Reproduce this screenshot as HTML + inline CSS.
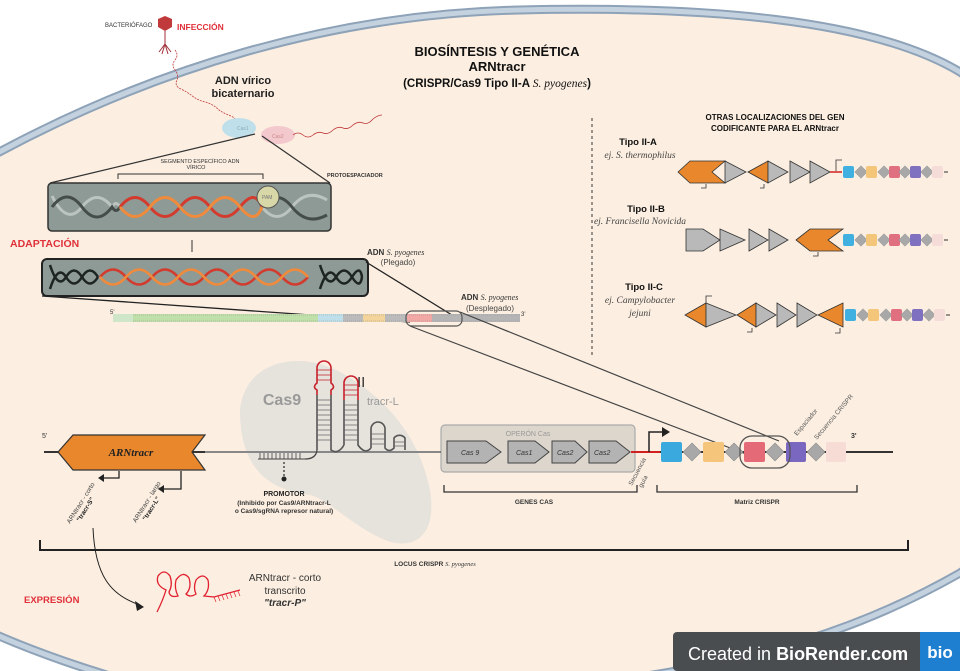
<!DOCTYPE html>
<html><head><meta charset="utf-8">
<style>
html,body{margin:0;padding:0;background:#fff}
svg{display:block}
text{font-family:"Liberation Sans",sans-serif}
.b{font-weight:bold}
.sr{font-family:"Liberation Serif",serif;font-style:italic}
</style></head><body>
<svg width="960" height="671" viewBox="0 0 960 671" xmlns="http://www.w3.org/2000/svg">
<defs>
<g id="dia"><polygon points="0,-9 9,0 0,9 -9,0" fill="#a8a8a8" stroke="#8a8a8a" stroke-width="0.6"/></g>
</defs>
<rect width="960" height="671" fill="#fff"/>
<!-- cell -->
<path id="cell" d="M-10,157 C150,70 330,14 520,10 C700,6 870,18 960,72 C975,82 985,95 990,110 L990,550 C980,560 970,566 960,573 C860,630 760,660 620,680 L160,690 C90,672 30,650 -10,632 Z" fill="#fcefe1" stroke="#8ea2b8" stroke-width="9"/>
<path d="M-10,157 C150,70 330,14 520,10 C700,6 870,18 960,72 C975,82 985,95 990,110 L990,550 C980,560 970,566 960,573 C860,630 760,660 620,680 L160,690 C90,672 30,650 -10,632 Z" fill="none" stroke="#c4d2e0" stroke-width="5"/>

<!-- title -->
<text x="497" y="56" font-size="13" class="b" text-anchor="middle" fill="#111">BIOSÍNTESIS Y GENÉTICA</text>
<text x="497" y="71" font-size="13" class="b" text-anchor="middle" fill="#111">ARNtracr</text>
<text x="497" y="87" font-size="11.5" class="b" text-anchor="middle" fill="#111">(CRISPR/Cas9 Tipo II-A <tspan class="sr" font-weight="normal">S. pyogenes</tspan>)</text>

<!-- phage -->
<text x="105" y="27" font-size="6" fill="#333">BACTERIÓFAGO</text>
<polygon points="165,16 172,19 172,27 165,31 158,27 158,19" fill="#c0393b"/>
<path d="M165,31 V45 M165,44 l-6,8 M165,44 l6,8 M165,44 l-3,10 M165,44 l3,10" stroke="#a0303a" stroke-width="1" fill="none"/>
<text x="177" y="30" font-size="8.5" class="b" fill="#e0303a">INFECCIÓN</text>
<path d="M175,50 q4,5 0,10 q-4,5 0,10 q4,5 2,10 q-3,6 4,9 q6,3 10,6 q6,5 14,7 q8,2 14,8 q6,4 12,6 q6,3 7,8 q2,4 5,6" stroke="#c0393b" stroke-width="0.8" fill="none" stroke-dasharray="2 1"/>
<text x="243" y="84" font-size="11" class="b" text-anchor="middle" fill="#222">ADN vírico</text>
<text x="243" y="97" font-size="11" class="b" text-anchor="middle" fill="#222">bicaternario</text>
<ellipse cx="239" cy="128" rx="17" ry="10" fill="#bfe0ea"/>
<text x="237" y="130" font-size="5" fill="#8ab">Cas1</text>
<ellipse cx="278" cy="135" rx="17" ry="9" fill="#f3c9cd"/>
<text x="272" y="138" font-size="5" fill="#c88">Cas2</text>
<path d="M293,135 q5,-4 10,0 q5,4 10,0 q5,-4 10,-2 q5,2 10,-3 q5,-4 10,-2 q5,2 10,-3 q5,-4 10,-2 q5,2 10,-4 q5,-4 9,-4" stroke="#c0393b" stroke-width="0.8" fill="none"/>
<line x1="255" y1="134" x2="50" y2="183" stroke="#333" stroke-width="1.2"/>
<line x1="262" y1="136" x2="330" y2="183" stroke="#333" stroke-width="1.2"/>
<text x="200" y="163" font-size="5.5" text-anchor="middle" fill="#333">SEGMENTO ESPECÍFICO ADN</text>
<text x="196" y="169" font-size="5.5" text-anchor="middle" fill="#333">VÍRICO</text>
<path d="M118,179 V174 H263 V179" stroke="#333" stroke-width="1" fill="none"/>
<text x="327" y="177" font-size="5.5" class="b" fill="#333">PROTOESPACIADOR</text>

<!-- box1 -->
<rect x="48" y="183" width="283" height="48" rx="4" fill="#8d9a95" stroke="#333" stroke-width="1.5"/>
<path d="M52,196 Q67,226 82,207 T112,207 Q116,200 120,207 M262,207 Q277,226 292,207 T327,200" stroke="#cfd6d3" stroke-width="3" fill="none" opacity="0.7"/>
<path d="M52,207 Q67,187 82,207 T112,207 Q116,214 120,207 M262,207 Q277,188 292,207 T327,215" stroke="#454d4b" stroke-width="3" fill="none"/>
<path d="M120,207 Q135,188 150,207 T180,207 T210,207 T240,207 T262,207" stroke="#d23b2e" stroke-width="3" fill="none"/>
<path d="M120,207 Q135,226 150,207 T180,207 T210,207 T240,207 T262,207" stroke="#f08a3c" stroke-width="3" fill="none"/>
<circle cx="268" cy="197" r="11" fill="#d8d7a8" stroke="#555" stroke-width="1"/>
<text x="262" y="199" font-size="5" fill="#777">PAM</text>
<line x1="192" y1="240" x2="192" y2="252" stroke="#333" stroke-width="1"/>
<text x="10" y="247" font-size="10.5" class="b" fill="#e0303a">ADAPTACIÓN</text>

<!-- box2 -->
<rect x="42" y="259" width="326" height="37" rx="5" fill="#8d9a95" stroke="#222" stroke-width="2"/>
<path d="M50,265 Q58,290 66,277 T82,277 T98,277 M320,265 Q328,290 336,277 T352,277 T362,277" stroke="#1d2422" stroke-width="2.5" fill="none"/>
<path d="M50,289 Q58,264 66,277 T82,277 T98,277 M320,289 Q328,264 336,277 T352,277 T362,277" stroke="#1d2422" stroke-width="2.5" fill="none"/>
<path d="M100,277 Q113,262 126,277 T152,277 T178,277 T204,277 T230,277 T256,277 T282,277 T308,277" stroke="#d23b2e" stroke-width="2.5" fill="none"/>
<path d="M100,277 Q113,292 126,277 T152,277 T178,277 T204,277 T230,277 T256,277 T282,277 T308,277" stroke="#f08a3c" stroke-width="2.5" fill="none"/>
<line x1="42" y1="296" x2="410" y2="322" stroke="#222" stroke-width="1.3"/>
<line x1="366" y1="262" x2="460" y2="320" stroke="#222" stroke-width="1.3"/>
<text x="367" y="255" font-size="8" class="b" fill="#333">ADN <tspan class="sr" font-weight="normal">S. pyogenes</tspan></text>
<text x="398" y="265" font-size="8" text-anchor="middle" fill="#444">(Plegado)</text>
<text x="461" y="300" font-size="8" class="b" fill="#333">ADN <tspan class="sr" font-weight="normal">S. pyogenes</tspan></text>
<text x="490" y="311" font-size="8" text-anchor="middle" fill="#444">(Desplegado)</text>
<text x="110" y="314" font-size="6" fill="#333">5'</text>
<text x="521" y="316" font-size="6" fill="#333">3'</text>
<rect x="113" y="314" width="20" height="8" fill="#cfe6c8"/>
<rect x="133" y="314" width="185" height="8" fill="#bfe0a8"/>
<rect x="318" y="314" width="25" height="8" fill="#bfe0ea"/>
<rect x="343" y="314" width="20" height="8" fill="#bbb"/>
<rect x="363" y="314" width="22" height="8" fill="#f3d49a"/>
<rect x="385" y="314" width="22" height="8" fill="#bbb"/>
<rect x="407" y="314" width="25" height="8" fill="#f2a8a4"/>
<rect x="432" y="314" width="88" height="8" fill="#b5b5b5"/>
<path d="M133,315 H520 M133,321 H520" stroke="#999" stroke-width="0.5" stroke-dasharray="1 1"/>
<rect x="406" y="311" width="56" height="15" rx="6" fill="none" stroke="#555" stroke-width="1.2"/>
<line x1="410" y1="326" x2="746" y2="454" stroke="#444" stroke-width="1.2"/>
<line x1="460" y1="312" x2="779" y2="441" stroke="#444" stroke-width="1.2"/>

<!-- dashed divider -->
<line x1="592" y1="118" x2="592" y2="355" stroke="#333" stroke-width="1" stroke-dasharray="3 3"/>

<!-- right panel -->
<text x="775" y="120" font-size="8" class="b" text-anchor="middle" fill="#111">OTRAS LOCALIZACIONES DEL GEN</text>
<text x="775" y="131" font-size="8" class="b" text-anchor="middle" fill="#111">CODIFICANTE PARA EL ARNtracr</text>
<text x="638" y="145" font-size="9.5" class="b" text-anchor="middle" fill="#111">Tipo II-A</text>
<text x="640" y="158" font-size="9.5" class="sr" text-anchor="middle" fill="#444">ej. S. thermophilus</text>
<text x="646" y="212" font-size="9.5" class="b" text-anchor="middle" fill="#111">Tipo II-B</text>
<text x="640" y="224" font-size="9.5" class="sr" text-anchor="middle" fill="#444">ej. Francisella Novicida</text>
<text x="644" y="290" font-size="9.5" class="b" text-anchor="middle" fill="#111">Tipo II-C</text>
<text x="640" y="303" font-size="9.5" class="sr" text-anchor="middle" fill="#444">ej. Campylobacter</text>
<text x="640" y="316" font-size="9.5" class="sr" text-anchor="middle" fill="#444">jejuni</text>
<g stroke="#333" stroke-width="0.8">
<polygon points="678,172 690,161 725,161 712,172 725,183 690,183" fill="#e8872c"/>
<polygon points="725,161 746,172 725,183" fill="#b9b9b9"/>
<polygon points="748,172 768,161 768,183" fill="#e8872c"/>
<polygon points="768,161 788,172 768,183" fill="#b9b9b9"/>
<polygon points="790,161 810,172 790,183" fill="#b9b9b9"/>
<polygon points="810,161 830,172 810,183" fill="#b9b9b9"/>
<line x1="830" y1="172" x2="842" y2="172" stroke="#d02020" stroke-width="1.5"/>
<path d="M836,171 V160 H842" fill="none"/>
<path d="M706,184 V188 H701 M764,184 V188 H760" fill="none"/>
<polygon points="686,229 703,229 720,240 703,251 686,251" fill="#b9b9b9"/>
<polygon points="720,229 745,240 720,251" fill="#b9b9b9"/>
<polygon points="749,229 768,240 749,251" fill="#b9b9b9"/>
<polygon points="769,229 788,240 769,251" fill="#b9b9b9"/>
<polygon points="796,240 810,229 843,229 828,240 843,251 810,251" fill="#e8872c"/>
<path d="M818,252 V256 H813" fill="none"/>
<polygon points="685,315 706,303 706,327" fill="#e8872c"/>
<polygon points="706,303 736,315 706,327" fill="#b9b9b9"/>
<polygon points="737,315 756,303 756,327" fill="#e8872c"/>
<polygon points="756,303 776,315 756,327" fill="#b9b9b9"/>
<polygon points="777,303 796,315 777,327" fill="#b9b9b9"/>
<polygon points="797,303 817,315 797,327" fill="#b9b9b9"/>
<polygon points="818,315 843,303 843,327" fill="#e8872c"/>
<path d="M706,303 V296 H712 M752,328 V332 H747 M840,328 V333 H835" fill="none"/>
</g>
<g>
<g transform="translate(0,172)"><rect x="843" y="-6" width="11" height="12" rx="2" fill="#3fb0e0"/><use href="#dia" transform="translate(861,0) scale(0.7)"/><rect x="866" y="-6" width="11" height="12" rx="2" fill="#f3c67a"/><use href="#dia" transform="translate(884,0) scale(0.7)"/><rect x="889" y="-6" width="11" height="12" rx="2" fill="#e07080"/><use href="#dia" transform="translate(905,0) scale(0.7)"/><rect x="910" y="-6" width="11" height="12" rx="2" fill="#8070c0"/><use href="#dia" transform="translate(927,0) scale(0.7)"/><rect x="932" y="-6" width="11" height="12" rx="2" fill="#f5dcd8"/><line x1="944" y1="0" x2="948" y2="0" stroke="#333"/></g>
<g transform="translate(0,240)"><rect x="843" y="-6" width="11" height="12" rx="2" fill="#3fb0e0"/><use href="#dia" transform="translate(861,0) scale(0.7)"/><rect x="866" y="-6" width="11" height="12" rx="2" fill="#f3c67a"/><use href="#dia" transform="translate(884,0) scale(0.7)"/><rect x="889" y="-6" width="11" height="12" rx="2" fill="#e07080"/><use href="#dia" transform="translate(905,0) scale(0.7)"/><rect x="910" y="-6" width="11" height="12" rx="2" fill="#8070c0"/><use href="#dia" transform="translate(927,0) scale(0.7)"/><rect x="932" y="-6" width="11" height="12" rx="2" fill="#f5dcd8"/><line x1="944" y1="0" x2="948" y2="0" stroke="#333"/></g>
<g transform="translate(0,315)"><rect x="845" y="-6" width="11" height="12" rx="2" fill="#3fb0e0"/><use href="#dia" transform="translate(863,0) scale(0.7)"/><rect x="868" y="-6" width="11" height="12" rx="2" fill="#f3c67a"/><use href="#dia" transform="translate(886,0) scale(0.7)"/><rect x="891" y="-6" width="11" height="12" rx="2" fill="#e07080"/><use href="#dia" transform="translate(907,0) scale(0.7)"/><rect x="912" y="-6" width="11" height="12" rx="2" fill="#8070c0"/><use href="#dia" transform="translate(929,0) scale(0.7)"/><rect x="934" y="-6" width="11" height="12" rx="2" fill="#f5dcd8"/><line x1="946" y1="0" x2="950" y2="0" stroke="#333"/></g>
</g>

<!-- Cas9 blob -->
<path d="M240,410 C245,360 300,350 340,372 C390,400 420,440 430,490 C438,540 410,550 385,540 C350,525 330,500 310,495 C270,490 240,470 240,410 Z" fill="#e3e0db" opacity="0.9"/>
<text x="282" y="405" font-size="16" class="b" text-anchor="middle" fill="#9a9a9a">Cas9</text>
<text x="357" y="387" font-size="15" fill="#333">II</text>

<!-- main locus line -->
<line x1="44" y1="452" x2="893" y2="452" stroke="#333" stroke-width="2"/>
<line x1="205" y1="452" x2="440" y2="452" stroke="#888" stroke-width="2"/>
<text x="42" y="438" font-size="7" fill="#333">5'</text>
<text x="851" y="438" font-size="7" class="b" fill="#333">3'</text>
<polygon points="58,452 73,435 205,435 192,452 205,470 73,470" fill="#e8872c" stroke="#333" stroke-width="1.2"/>
<text x="131" y="456" font-size="11" class="sr b" text-anchor="middle" fill="#222">ARNtracr</text>
<path d="M119,471 V478 H102" stroke="#222" stroke-width="1.3" fill="none"/><polygon points="98,478 104,474 104,482" fill="#222"/>
<path d="M181,471 V489 H162" stroke="#222" stroke-width="1.3" fill="none"/><polygon points="158,489 164,485 164,493" fill="#222"/>
<text transform="translate(70,524) rotate(-58)" font-size="6.5" fill="#444">ARNtracr - corto</text>
<text transform="translate(80,522) rotate(-58)" font-size="6.5" class="b" fill="#222">"tracr-S"</text>
<text transform="translate(136,523) rotate(-58)" font-size="6.5" fill="#444">ARNtracr - largo</text>
<text transform="translate(146,521) rotate(-58)" font-size="6.5" class="b" fill="#222">"tracr-L"</text>

<!-- promoter -->
<path d="M258,459 H305" stroke="#444" stroke-width="1"/>
<path d="M260,453 V459 M264,453 V459 M268,453 V459 M272,453 V459 M276,453 V459 M280,453 V459 M284,453 V459 M288,453 V459 M292,453 V459 M296,453 V459 M300,453 V459" stroke="#444" stroke-width="0.8"/>
<path d="M305,459 Q316,459 317,450" stroke="#444" stroke-width="1.2" fill="none"/>
<line x1="284" y1="462" x2="284" y2="477" stroke="#333" stroke-width="1.3" stroke-dasharray="2 2"/>
<circle cx="284" cy="479" r="2.5" fill="#222"/>
<text x="284" y="496" font-size="7" class="b" text-anchor="middle" fill="#222">PROMOTOR</text>
<text x="284" y="505" font-size="6.5" class="b" text-anchor="middle" fill="#333">(Inhibido por Cas9/ARNtracr-L</text>
<text x="284" y="513" font-size="6.5" class="b" text-anchor="middle" fill="#333">o Cas9/sgRNA represor natural)</text>

<!-- tracr-L hairpins -->
<g fill="none" stroke-width="1.6">
<path d="M317,450 V395 M331,395 V450 Q338,455 344,445" stroke="#555"/>
<path d="M317,395 V390 Q312,387 317,383 V368 A7,7 0 0 1 331,368 V383 Q336,387 331,390 V395" stroke="#c8202a"/>
<path d="M344,445 V400 M358,400 V445 Q365,455 371,448" stroke="#555"/>
<path d="M344,400 V383 A7,7 0 0 1 358,383 V400" stroke="#c8202a"/>
<path d="M371,448 V429 A7,7 0 0 1 385,429 V448 Q389,453 394,448 V438 A7,7 0 0 1 405,438 V450" stroke="#555"/>
</g>
<path d="M317,400 H331 M317,405 H331 M317,410 H331 M317,415 H331 M317,420 H331 M317,425 H331 M317,430 H331 M317,435 H331 M317,440 H331 M344,405 H358 M344,410 H358 M344,415 H358 M344,420 H358 M344,425 H358 M344,430 H358 M344,435 H358 M344,440 H358 M371,434 H385 M371,439 H385 M371,444 H385 M394,442 H405 M394,446 H405" stroke="#666" stroke-width="0.8"/>
<path d="M317,370 H331 M317,375 H331 M317,380 H331 M344,385 H358 M344,390 H358 M344,395 H358" stroke="#c8202a" stroke-width="0.8"/>
<text x="367" y="405" font-size="11" fill="#9a9a9a">tracr-L</text>

<!-- operon -->
<rect x="441" y="425" width="194" height="47" rx="4" fill="#ddd6cc" stroke="#aaa" stroke-width="1.2"/>
<text x="528" y="436" font-size="7" text-anchor="middle" fill="#999">OPERÓN Cas</text>
<g stroke="#444" stroke-width="1" fill="#b3b3b3">
<polygon points="447,441 486,441 501,452 486,463 447,463"/>
<polygon points="508,441 535,441 549,452 535,463 508,463"/>
<polygon points="552,441 575,441 587,452 575,463 552,463"/>
<polygon points="589,441 616,441 630,452 616,463 589,463"/>
</g>
<g font-size="7" class="sr" fill="#333"><text x="461" y="455">Cas 9</text><text x="516" y="455">Cas1</text><text x="557" y="455">Cas2</text><text x="594" y="455">Cas2</text></g>
<line x1="631" y1="452" x2="660" y2="452" stroke="#d02020" stroke-width="2"/>
<path d="M649,452 V432 H664" stroke="#222" stroke-width="1.5" fill="none"/>
<polygon points="670,432 662,427 662,437" fill="#222"/>

<!-- crispr array -->
<rect x="661" y="442" width="21" height="20" rx="2" fill="#3aa9de"/>
<use href="#dia" transform="translate(692,452)"/>
<rect x="703" y="442" width="21" height="20" rx="2" fill="#f4c57b"/>
<use href="#dia" transform="translate(734,452)"/>
<rect x="744" y="442" width="21" height="20" rx="2" fill="#e46a78"/>
<use href="#dia" transform="translate(775,452)"/>
<rect x="786" y="442" width="20" height="20" rx="2" fill="#7a68c0"/>
<use href="#dia" transform="translate(816,452)"/>
<rect x="826" y="442" width="20" height="20" rx="2" fill="#f7dcd6"/>
<rect x="740" y="436" width="50" height="32" rx="12" fill="none" stroke="#555" stroke-width="1.3"/>
<text transform="translate(797,436) rotate(-50)" font-size="6.5" fill="#555">Espaciador</text>
<text transform="translate(817,440) rotate(-50)" font-size="6.5" fill="#555">Secuencia CRISPR</text>
<text transform="translate(632,486) rotate(-62)" font-size="6.5" fill="#555">Secuencia</text>
<text transform="translate(642,488) rotate(-62)" font-size="6.5" fill="#555">guía</text>

<!-- brackets -->
<path d="M444,485 V492 H637 V485 M657,485 V492 H857 V485" stroke="#333" stroke-width="1.3" fill="none"/>
<text x="534" y="504" font-size="6.5" class="b" text-anchor="middle" fill="#333">GENES CAS</text>
<text x="757" y="504" font-size="6.5" class="b" text-anchor="middle" fill="#333">Matriz CRISPR</text>
<path d="M40,540 V550 H908 V540" stroke="#222" stroke-width="2" fill="none"/>
<text x="435" y="566" font-size="6.5" class="b" text-anchor="middle" fill="#333">LOCUS CRISPR <tspan class="sr" font-weight="normal">S. pyogenes</tspan></text>

<!-- expression -->
<path d="M93,528 C95,575 110,595 140,605" stroke="#222" stroke-width="1" fill="none"/>
<polygon points="144,607 135,601 137,611" fill="#222"/>
<text x="24" y="603" font-size="9.5" class="b" fill="#e0303a">EXPRESIÓN</text>
<g fill="none" stroke="#e02030" stroke-width="1.3">
<path d="M157,612 Q163,600 166,590 Q155,585 158,576 Q164,568 170,576 Q173,585 169,592 Q170,598 178,596 Q174,588 176,580 Q183,570 189,578 Q192,588 186,594 Q190,598 196,594 Q193,588 196,580 Q203,572 208,580 Q210,590 204,596 L214,597 L240,590"/>
</g>
<path d="M214,597 l2,5 M218,596 l2,5 M222,595 l2,5 M226,594 l2,5 M230,593 l2,5 M234,592 l2,5 M238,591 l2,5" stroke="#e02030" stroke-width="0.7"/>
<text x="285" y="581" font-size="10" text-anchor="middle" fill="#333">ARNtracr - corto</text>
<text x="285" y="594" font-size="10" text-anchor="middle" fill="#333">transcrito</text>
<text x="285" y="606" font-size="10" class="b" font-style="italic" text-anchor="middle" fill="#333">"tracr-P"</text>

<!-- badge -->
<rect x="673" y="632" width="287" height="39" rx="4" fill="#4a4d50"/>
<text x="688" y="660" font-size="18" fill="#fff">Created in <tspan class="b">BioRender.com</tspan></text>
<rect x="920" y="632" width="40" height="39" fill="#1e7fd0"/>
<text x="940" y="658" font-size="17" class="b" text-anchor="middle" fill="#fff">bio</text>
</svg>
</body></html>
